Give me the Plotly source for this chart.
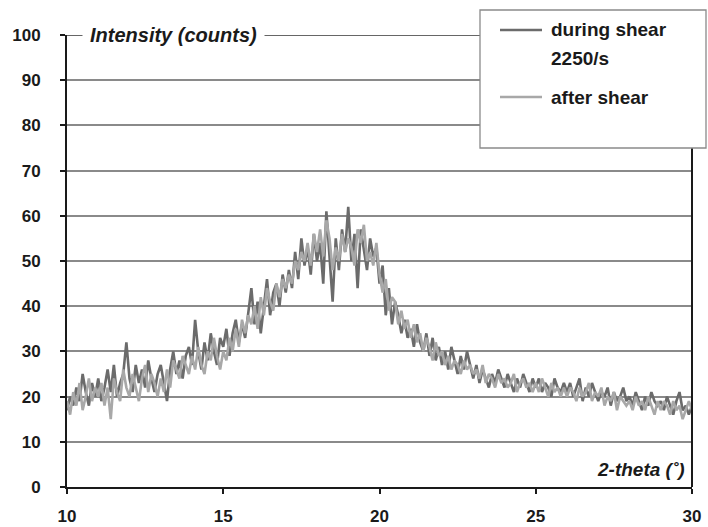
import numpy as np
import plotly.graph_objects as go

two_theta = [round(10 + 0.1 * i, 1) for i in range(201)]

during_shear = [
    17, 20, 18, 22, 19, 25, 21, 18, 23, 20,
    24, 19, 22, 26, 21, 27, 20, 23, 25, 32,
    24, 21, 27, 23, 26, 22, 28, 24, 21, 25,
    27, 23, 19, 26, 30, 25, 28, 24, 29, 31,
    27, 37, 30, 26, 32, 28, 34, 30, 27, 33,
    31, 35, 29, 34, 37, 32, 36, 33, 39, 44,
    36, 41, 34, 40, 46, 38, 43, 45, 40, 47,
    43, 48, 44, 52, 46, 55, 49, 53, 47, 56,
    50, 54, 45, 61, 52, 41, 55, 48, 57, 52,
    62, 50, 56, 44, 57, 52, 48, 55, 51, 53,
    45, 49, 38, 44, 36, 41, 38, 34, 37, 33,
    35, 31, 36, 32, 30, 34, 29, 33, 28, 31,
    27, 30, 26, 31, 28, 25, 29, 26, 30, 27,
    24, 27, 23, 26, 24, 22, 25, 23, 26, 24,
    22, 25, 23, 21, 24, 22, 25, 23, 21, 24,
    22, 24, 21, 23, 22, 20, 24, 22, 21, 23,
    21, 23, 20, 22, 24, 19, 22, 20, 23, 21,
    19, 21, 20, 22, 18, 21, 19, 20, 22, 19,
    20, 18, 21, 19, 17, 20, 18, 21, 19, 18,
    19, 17, 20, 18, 16, 19, 21, 17, 18, 16,
    18,
]

after_shear = [
    19, 16, 21, 18, 23, 17, 20, 24, 19, 22,
    20, 23, 18, 22, 15, 24, 21, 19, 26, 22,
    20, 25, 22, 19, 24, 27, 21, 25, 23, 20,
    24, 21, 26, 22, 28, 26, 24, 29, 27, 25,
    29, 26, 31, 27, 25, 30, 28, 33, 29, 26,
    30, 28, 33, 30, 35, 31, 37, 34, 38, 36,
    40, 35, 42, 38, 44, 41, 39, 45, 42, 46,
    44, 47, 45, 50, 48, 52, 50, 54, 49, 56,
    52, 57, 51, 59, 55, 48, 53, 50, 56, 52,
    55, 53, 49, 57, 54, 58, 50, 52, 49, 54,
    47, 43, 46, 39, 42, 41, 36, 39, 35, 37,
    33, 36, 32, 34, 30, 33, 31, 28, 32, 29,
    30, 27, 29, 26, 28, 27, 25, 28, 26, 27,
    25, 26, 24, 27, 23, 25, 24, 22, 25, 23,
    24, 22, 23, 25, 21, 23, 24, 22, 23, 21,
    23, 21, 24, 22, 20, 23, 21, 22, 20, 22,
    20, 22, 21, 19, 22, 20, 21, 23, 19, 21,
    20, 22, 18, 20, 19, 21, 17, 20, 19, 18,
    19, 17, 20, 18, 19, 17, 20, 18, 16, 19,
    17, 19, 18, 16, 19, 17, 18, 15, 17, 19,
    17,
]

x_ticks = [10, 15, 20, 25, 30]
y_ticks = [0, 10, 20, 30, 40, 50, 60, 70, 80, 90, 100]
series_names = ["during shear<br>2250/s", "after shear"]
series_colors = ["#6b6b6b", "#a8a8a8"]

FONT = "Liberation Sans, Arial, sans-serif"
DARK = "#1a1a1a"

# plot area in pixels: x 67..692, y 35..487
def px(xp):
    return (xp - 67) / 625.0

def py(yp):
    return (487 - yp) / 452.0

fig = go.Figure()
for ys, nm, col in zip([during_shear, after_shear], series_names, series_colors):
    fig.add_trace(go.Scatter(x=two_theta, y=ys, mode="lines", name=nm,
                             showlegend=False,
                             line=dict(color=col, width=2.6)))

fig.update_layout(
    width=708, height=527,
    margin=dict(l=67, r=16, t=35, b=40, autoexpand=False),
    paper_bgcolor="white", plot_bgcolor="white",
    font=dict(family=FONT, size=17, color=DARK),
    xaxis=dict(range=[10, 30], tickvals=x_ticks, ticktext=[f"<b>{v}</b>" for v in x_ticks],
               automargin=False,
               showgrid=False, zeroline=False, showline=True, linecolor=DARK,
               linewidth=2, ticks="outside", ticklen=5, tickwidth=2, tickcolor=DARK,
               ticklabelstandoff=8, tickfont=dict(size=17)),
    yaxis=dict(range=[0, 100], tickvals=y_ticks, ticktext=[f"<b>{v}</b>" for v in y_ticks],
               automargin=False,
               showgrid=True, gridcolor="#8a8a8a", gridwidth=1.6, zeroline=False,
               showline=True, linecolor=DARK, linewidth=2,
               ticks="outside", ticklen=5, tickwidth=2, tickcolor=DARK,
               ticklabelstandoff=16, tickfont=dict(size=17)),
)

# top gridline at 100
fig.add_shape(type="line", xref="x", yref="y", x0=10, x1=30, y0=100, y1=100,
              line=dict(color="#333333", width=1.6), layer="below")
# right border line
fig.add_shape(type="line", xref="paper", yref="paper", x0=1, x1=1, y0=0, y1=1,
              line=dict(color=DARK, width=2), layer="above")
# legend box
fig.add_shape(type="rect", xref="paper", yref="paper",
              x0=px(480), x1=px(706), y0=py(148), y1=py(10),
              line=dict(color="#8a8a8a", width=1.3), fillcolor="white", layer="above")
# legend samples
for yp, col in [(30, series_colors[0]), (97, series_colors[1])]:
    fig.add_shape(type="line", xref="paper", yref="paper",
                  x0=px(500), x1=px(542), y0=py(yp), y1=py(yp),
                  line=dict(color=col, width=2.6), layer="above")
for yp, txt in [(30, "during shear"), (58, "2250/s"), (97, "after shear")]:
    fig.add_annotation(xref="paper", yref="paper", x=px(549), y=py(yp),
                       xanchor="left", yanchor="middle", showarrow=False,
                       text=f"<b>{txt}</b>",
                       font=dict(family=FONT, size=19, color=DARK))

fig.add_annotation(xref="paper", yref="paper", x=px(82), y=1.0,
                   xanchor="left", yanchor="middle", showarrow=False,
                   text="<b><i>Intensity (counts)</i></b>", bgcolor="white",
                   borderpad=7,
                   font=dict(family=FONT, size=20, color=DARK))
fig.add_annotation(xref="paper", yref="paper", x=px(687), y=py(469),
                   xanchor="right", yanchor="middle", showarrow=False,
                   text="<b><i>2-theta (˚)</i></b>",
                   font=dict(family=FONT, size=19, color=DARK))

fig.write_html("out.html")
